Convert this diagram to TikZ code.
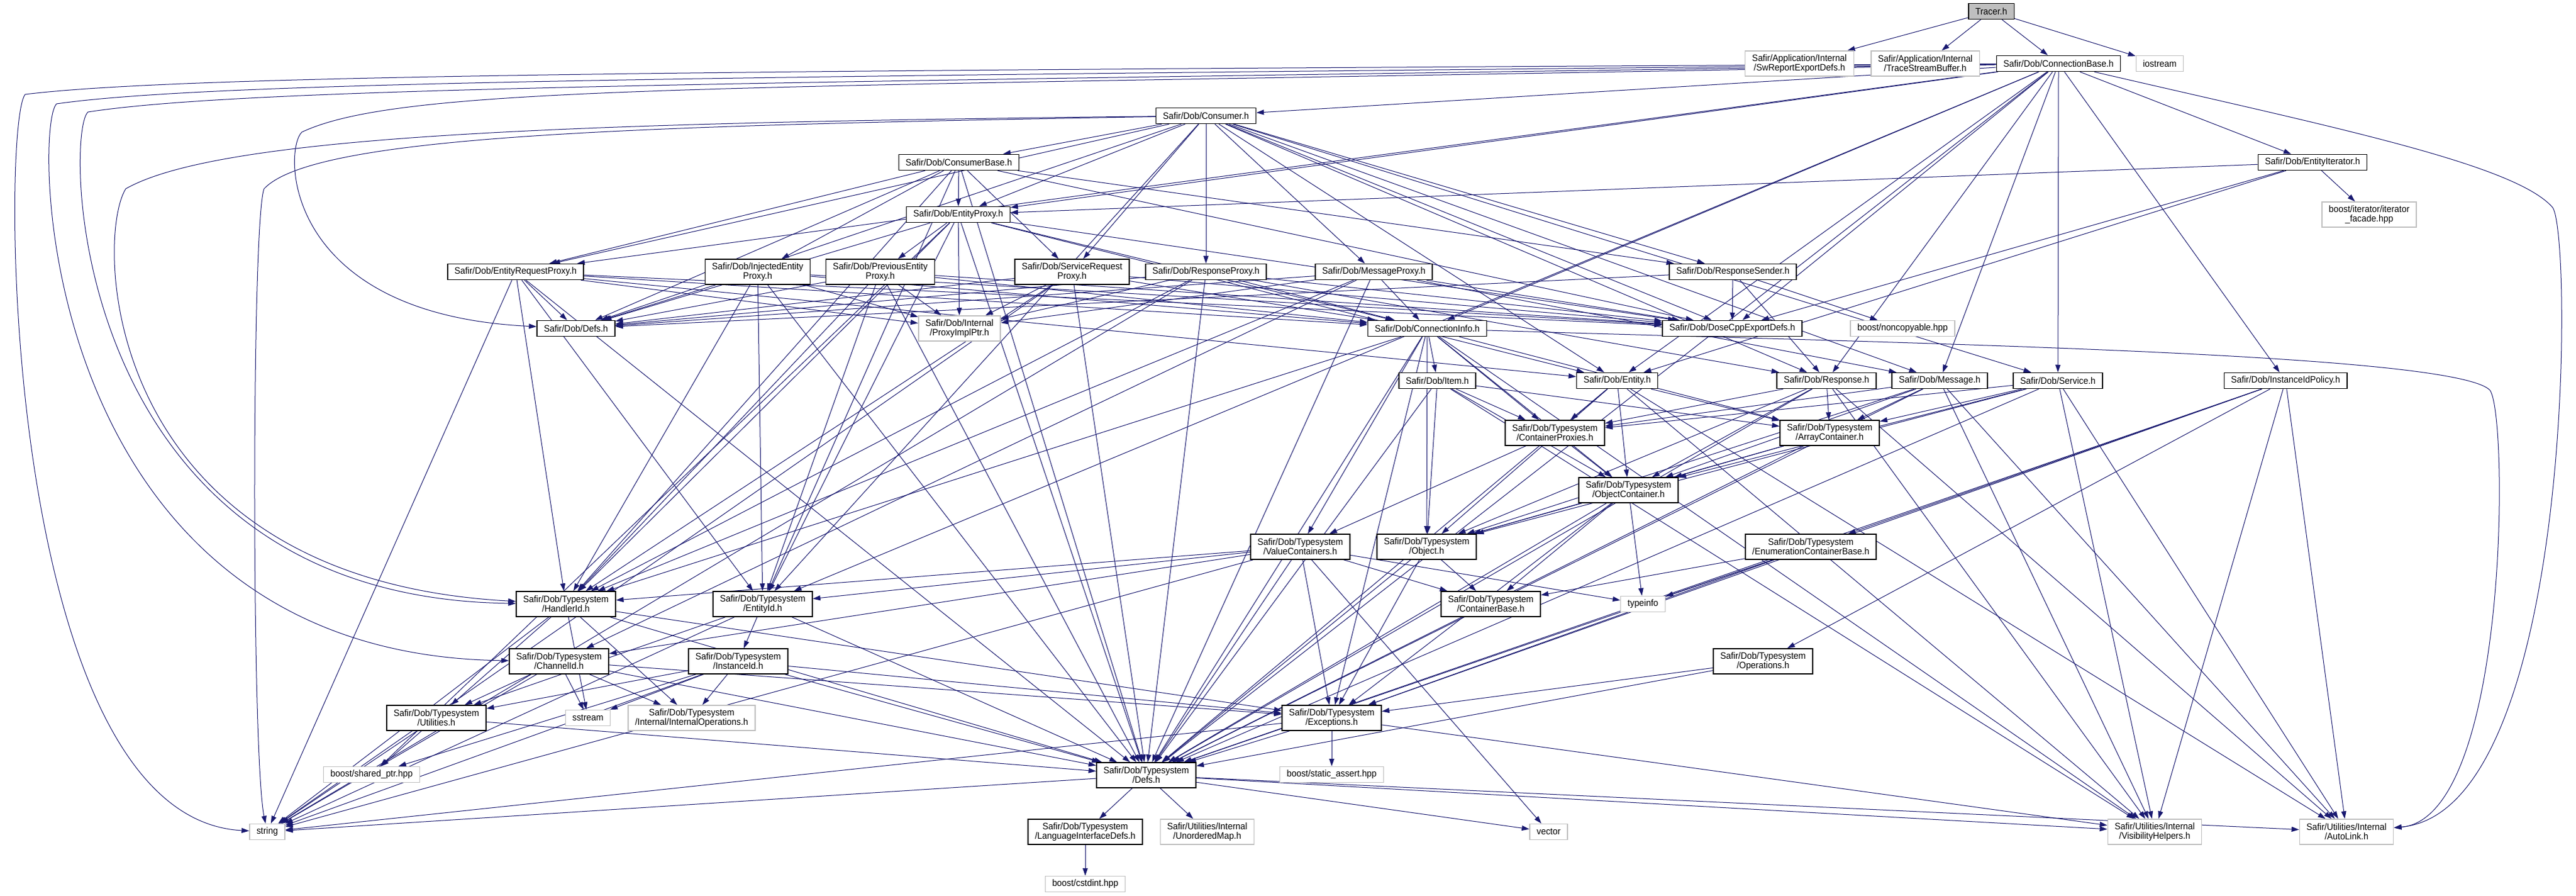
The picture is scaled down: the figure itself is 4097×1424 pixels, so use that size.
\documentclass[tikz,border=0pt]{standalone}
\usepackage{fontspec}
\newfontfamily\dotfont[FakeStretch=0.93]{Liberation Sans}
\usepackage{tikz}
\usetikzlibrary{arrows.meta,shapes}
\definecolor{edgeblue}{HTML}{191970}
\definecolor{extgray}{HTML}{BFBFBF}
\pgfdeclarelayer{back}
\pgfsetlayers{back,main}
\tikzstyle{filebox}=[rectangle,draw=black,fill=white,line width=0.3mm,minimum height=5mm,inner xsep=2.2mm,inner ysep=0.5mm,align=center,font=\dotfont\fontsize{8.5}{8.5}\selectfont]
\tikzstyle{extbox}=[filebox,draw=extgray]
\tikzstyle{rootbox}=[filebox,fill=extgray]
\tikzstyle{twoline}=[minimum height=8mm]
\tikzstyle{edge} = [draw,->,color=edgeblue,line width=0.2mm]

\begin{document}
\begin{tikzpicture}[x=0.2mm, y=-0.2mm, >={Triangle[length=2.4mm,width=1.6mm]}]

    \useasboundingbox (0,0) rectangle (4097,1424);

    \node[rootbox] (tracer) at (3167,18) {Tracer.h};

    \foreach \pos/\name/\label in {{(3274,101)/cbase/{Safir/Dob/ConnectionBase.h}},
        {(1918,184)/consumer/{Safir/Dob/Consumer.h}}, {(1525,258)/consbase/{Safir/Dob/ConsumerBase.h}},
        {(1524,341)/eproxy/{Safir/Dob/EntityProxy.h}}, {(3678,258)/eiter/{Safir/Dob/EntityIterator.h}},
        {(820,432)/ereq/{Safir/Dob/EntityRequestProxy.h}}, {(1918,432)/respp/{Safir/Dob/ResponseProxy.h}},
        {(2185,432)/msgp/{Safir/Dob/MessageProxy.h}}, {(2756,432)/rsend/{Safir/Dob/ResponseSender.h}},
        {(916,522)/ddefs/{Safir/Dob/Defs.h}}, {(2270,522)/cinfo/{Safir/Dob/ConnectionInfo.h}},
        {(2755,522)/dose/{Safir/Dob/DoseCppExportDefs.h}}, {(2286,605)/item/{Safir/Dob/Item.h}},
        {(2572,605)/entity/{Safir/Dob/Entity.h}}, {(2905,605)/resp/{Safir/Dob/Response.h}},
        {(3085,605)/msg/{Safir/Dob/Message.h}}, {(3273,605)/srv/{Safir/Dob/Service.h}},
        {(3635,605)/iidp/{Safir/Dob/InstanceIdPolicy.h}}}
        \node[filebox] (\name) at \pos {\label};

    \foreach \pos/\name/\label in {{(1205,432)/injp/{Safir/Dob/InjectedEntity\\Proxy.h}},
        {(1400,432)/prevp/{Safir/Dob/PreviousEntity\\Proxy.h}}, {(1705,432)/srvreq/{Safir/Dob/ServiceRequest\\Proxy.h}},
        {(2473,688)/cprox/{Safir/Dob/Typesystem\\/ContainerProxies.h}}, {(2910,688)/arrc/{Safir/Dob/Typesystem\\/ArrayContainer.h}},
        {(2590,779)/objc/{Safir/Dob/Typesystem\\/ObjectContainer.h}}, {(2068,869)/valc/{Safir/Dob/Typesystem\\/ValueContainers.h}},
        {(2269,869)/obj/{Safir/Dob/Typesystem\\/Object.h}}, {(2880,869)/enumc/{Safir/Dob/Typesystem\\/EnumerationContainerBase.h}},
        {(900,960)/hid/{Safir/Dob/Typesystem\\/HandlerId.h}}, {(1213,960)/eid/{Safir/Dob/Typesystem\\/EntityId.h}},
        {(2371,960)/contb/{Safir/Dob/Typesystem\\/ContainerBase.h}}, {(889,1051)/chid/{Safir/Dob/Typesystem\\/ChannelId.h}},
        {(1174,1051)/iid/{Safir/Dob/Typesystem\\/InstanceId.h}}, {(2804,1051)/ops/{Safir/Dob/Typesystem\\/Operations.h}},
        {(694,1141)/util/{Safir/Dob/Typesystem\\/Utilities.h}}, {(2118,1141)/exc/{Safir/Dob/Typesystem\\/Exceptions.h}},
        {(1823,1232)/tsdefs/{Safir/Dob/Typesystem\\/Defs.h}}, {(1726,1322)/lidefs/{Safir/Dob/Typesystem\\/LanguageInterfaceDefs.h}}}
        \node[filebox,twoline] (\name) at \pos {\label};

    \foreach \pos/\name/\label in {{(3435,101)/iostr/{iostream}}, {(3026,522)/noncp/{boost/noncopyable.hpp}},
        {(2613,960)/tinfo/{typeinfo}}, {(935,1141)/sstr/{sstream}}, {(591,1231)/shptr/{boost/shared\_ptr.hpp}},
        {(2118,1231)/sassert/{boost/static\_assert.hpp}}, {(425,1322)/str/{string}}, {(2463,1322)/vec/{vector}},
        {(1726,1405)/cstd/{boost/cstdint.hpp}}}
        \node[extbox] (\name) at \pos {\label};

    \foreach \pos/\name/\label in {{(2862,101)/swrep/{Safir/Application/Internal\\/SwReportExportDefs.h}},
        {(3062,101)/tsbuf/{Safir/Application/Internal\\/TraceStreamBuffer.h}}, {(3768,341)/itfac/{boost/iterator/iterator\\\_facade.hpp}},
        {(1526,522)/pimpl/{Safir/Dob/Internal\\/ProxyImplPtr.h}}, {(1100,1141)/intops/{Safir/Dob/Typesystem\\/Internal/InternalOperations.h}},
        {(3427,1322)/vis/{Safir/Utilities/Internal\\/VisibilityHelpers.h}}, {(3732,1322)/alink/{Safir/Utilities/Internal\\/AutoLink.h}},
        {(1920,1322)/umap/{Safir/Utilities/Internal\\/UnorderedMap.h}}}
        \node[extbox,twoline] (\name) at \pos {\label};

    \begin{pgfonlayer}{back}
    \fill[white] (0,0) rectangle (4097,1424);

    % Connect vertices with edges
    \foreach \source/ \dest in {tracer/swrep, tracer/tsbuf, tracer/cbase, tracer/iostr,
        cbase/consumer, cbase/eproxy, cbase/eiter, cbase/iidp, cbase/dose, cbase/cinfo, cbase/entity, cbase/resp,
        cbase/msg, cbase/srv, cbase/eid, cbase/tsdefs, cbase/ereq,
        consumer/consbase, consumer/eproxy, consumer/ereq, consumer/srvreq, consumer/respp, consumer/msgp,
        consumer/rsend, consumer/ddefs, consumer/dose, consumer/entity, consumer/resp, consumer/msg, consumer/srv, consumer/eid,
        consbase/eproxy, consbase/ereq, consbase/injp, consbase/srvreq, consbase/rsend, consbase/ddefs,
        consbase/dose, consbase/eid, consbase/tsdefs, consbase/hid,
        eproxy/pimpl, eproxy/prevp, eproxy/cinfo, eproxy/ddefs, eproxy/dose, eproxy/hid, eproxy/eid,
        eproxy/tsdefs, eproxy/shptr, eproxy/entity,
        ereq/ddefs, ereq/pimpl, ereq/cinfo, ereq/dose, ereq/hid, ereq/eid, ereq/tsdefs, ereq/str, ereq/entity,
        injp/ddefs, injp/pimpl, injp/cinfo, injp/dose, injp/hid, injp/eid, injp/tsdefs,
        prevp/ddefs, prevp/pimpl, prevp/cinfo, prevp/dose, prevp/hid, prevp/eid, prevp/tsdefs,
        srvreq/ddefs, srvreq/pimpl, srvreq/cinfo, srvreq/dose, srvreq/hid, srvreq/tsdefs, srvreq/str,
        respp/ddefs, respp/pimpl, respp/cinfo, respp/dose, respp/hid, respp/tsdefs, respp/resp, respp/str,
        msgp/ddefs, msgp/pimpl, msgp/cinfo, msgp/dose, msgp/hid, msgp/chid, msgp/tsdefs, msgp/msg,
        rsend/ddefs, rsend/dose, rsend/noncp, rsend/resp,
        eiter/eproxy, eiter/itfac, eiter/dose, eiter/entity,
        cinfo/item, cinfo/cprox, cinfo/valc, cinfo/obj, cinfo/objc, cinfo/arrc, cinfo/hid, cinfo/tsdefs, cinfo/exc, cinfo/vis,
        item/cprox, item/arrc, item/objc, item/obj, item/tsdefs, item/vis,
        entity/cprox, entity/arrc, entity/objc, entity/obj, entity/tsdefs, entity/vis, entity/alink,
        resp/cprox, resp/arrc, resp/objc, resp/obj, resp/tsdefs, resp/vis, resp/alink,
        msg/cprox, msg/arrc, msg/objc, msg/obj, msg/tsdefs, msg/vis, msg/alink,
        srv/cprox, srv/arrc, srv/objc, srv/obj, srv/tsdefs, srv/vis, srv/alink,
        iidp/enumc, iidp/ops, iidp/tsdefs, iidp/exc, iidp/vis, iidp/alink,
        cprox/objc, cprox/valc, arrc/objc, arrc/obj, arrc/tsdefs,
        objc/obj, objc/contb, objc/tinfo, objc/exc, objc/tsdefs,
        valc/hid, valc/eid, valc/chid, valc/contb, valc/tinfo, valc/exc, valc/tsdefs, valc/vec, valc/str,
        obj/contb, obj/exc, obj/tsdefs, enumc/contb, enumc/tinfo, enumc/exc, enumc/tsdefs,
        hid/util, hid/sstr, hid/intops, hid/tsdefs, hid/exc, hid/str,
        eid/iid, eid/tsdefs, eid/util, eid/str,
        chid/util, chid/sstr, chid/intops, chid/tsdefs, chid/exc, chid/str,
        iid/util, iid/sstr, iid/intops, iid/tsdefs, iid/exc, iid/str, iid/shptr,
        ops/exc, ops/tsdefs, util/shptr, util/str, util/tsdefs,
        exc/sassert, exc/tsdefs, exc/str, exc/vis,
        tsdefs/lidefs, tsdefs/umap, tsdefs/str, tsdefs/vec, tsdefs/vis, tsdefs/alink, lidefs/cstd}
        \draw[edge] (\source) -- (\dest);

    % long ones round the sides
    \draw[edge] (cbase) .. controls (1200,112) and (300,118) .. (40,150) .. controls (0,200) and (5,1300) .. (str);
    \draw[edge] (cbase) .. controls (1200,122) and (350,128) .. (90,165) .. controls (52,200) and (57,1040) .. (chid);
    \draw[edge] (cbase) .. controls (1200,132) and (400,138) .. (140,178) .. controls (102,210) and (107,950) .. (hid);
    \draw[edge] (cbase) .. controls (1200,142) and (650,130) .. (480,210) .. controls (450,240) and (450,500) .. (ddefs);
    \draw[edge] (consumer) .. controls (900,195) and (350,215) .. (200,300) .. controls (150,380) and (160,920) .. (hid);
    \draw[edge] (consumer) .. controls (1000,200) and (500,215) .. (420,300) .. controls (400,350) and (400,1200) .. (str);
    \draw[edge] (cbase) .. controls (3700,200) and (4000,260) .. (4060,330) .. controls (4092,380) and (4092,1290) .. (alink);
    \draw[edge] (cinfo) .. controls (3000,545) and (3900,560) .. (3960,620) .. controls (3990,660) and (3990,1300) .. (alink);
    \end{pgfonlayer}

\end{tikzpicture}
\end{document}
